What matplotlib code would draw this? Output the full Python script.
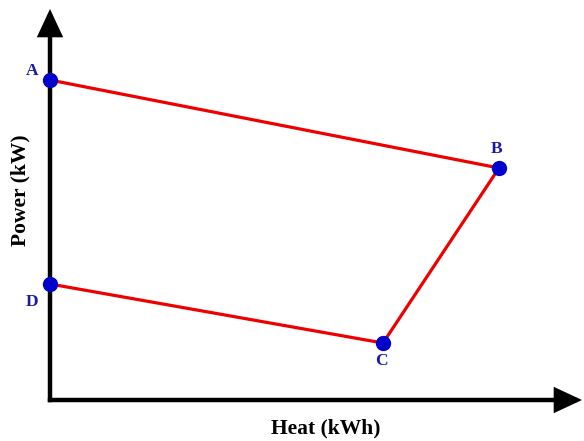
import matplotlib.pyplot as plt

# operating region corner points (heat, power), arbitrary units
labels = ['A', 'B', 'C', 'D']
heat = [0, 449, 333, 0]
power = [320, 232, 57, 116]

label_dx = [-18, -2, -2, -18]
label_dy = [9, 19, -18, -18]

fig = plt.figure(figsize=(5.84, 4.41), dpi=100)
ax = fig.add_axes([0, 0, 1, 1])
ax.set_xlim(-50, 534)
ax.set_ylim(-41, 400)
ax.axis('off')

font = dict(family='Liberation Serif', fontweight='bold')

# axes with arrow heads
arrow = dict(arrowstyle='-|>,head_length=1.5,head_width=0.7', color='black', lw=3.2,
             shrinkA=0, shrinkB=0, capstyle='butt', joinstyle='miter')
ax.annotate('', xy=(0, 391), xytext=(0, -2.2), arrowprops=arrow, annotation_clip=False)
ax.annotate('', xy=(532, 0), xytext=(-2.2, 0), arrowprops=arrow, annotation_clip=False)

# boundary A-B-C-D (D-A lies on the power axis)
ax.plot(heat, power, color='#ee0000', lw=2.3, zorder=3)
ax.plot(heat, power, 'o', color='#0000cc', ms=10, zorder=4)

for lab, x, y, dx, dy in zip(labels, heat, power, label_dx, label_dy):
    ax.text(x + dx, y + dy, lab, color='#1a1aa6', fontsize=12.5, ha='center', va='center', **font)

ax.text(276, -28, 'Heat (kWh)', fontsize=15.5, ha='center', va='center', **font)
ax.text(-30, 210, 'Power (kW)', fontsize=15.5, rotation=90, ha='center', va='center', **font)

fig.savefig('out.png', dpi=100)
